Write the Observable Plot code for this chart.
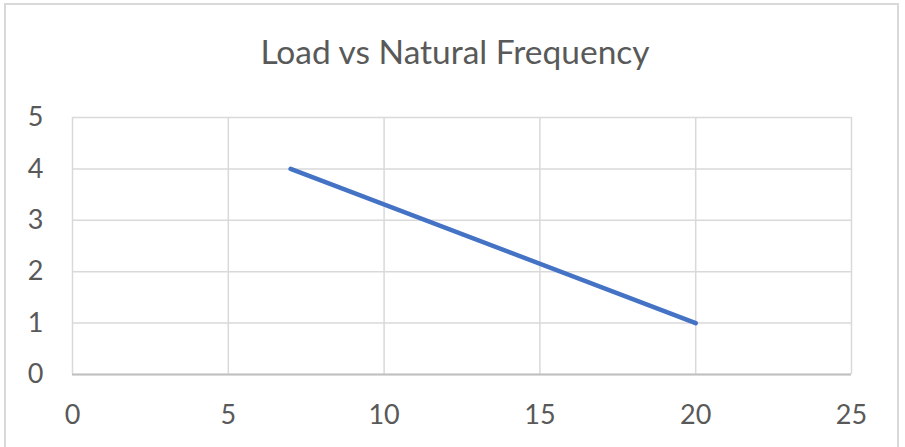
<!DOCTYPE html>
<html>
<head>
<meta charset="utf-8">
<script src="https://cdn.jsdelivr.net/npm/d3@7"></script>
<script src="https://cdn.jsdelivr.net/npm/@observablehq/plot@0.6"></script>
<style>
  html, body { margin: 0; padding: 0; background: #fff; }
  #wrap { position: relative; width: 905px; height: 447px; overflow: hidden; }
  #frame { position: absolute; left: 4px; top: 3px; width: 895px; height: 460px; border: 2px solid #d9d9d9; box-sizing: border-box; }
  #title { position: absolute; left: 0; width: 910px; top: 31px; text-align: center; font-family: Lato, sans-serif; font-size: 33.5px; color: #595959; line-height: 40px; }
  #chart { position: absolute; left: 0; top: 0; }
</style>
</head>
<body>
<div id="wrap">
  <div id="frame"></div>
  <div id="chart"></div>
  <div id="title">Load vs Natural Frequency</div>
</div>
<script>
const title = "Load vs Natural Frequency";
const frequency = [7, 20];
const load = [4, 1];
const xTicks = [0, 5, 10, 15, 20, 25];
const yTicks = [0, 1, 2, 3, 4, 5];

const data = frequency.map((f, i) => ({x: f, y: load[i]}));

const chart = Plot.plot({
  width: 905,
  height: 447,
  marginLeft: 72,
  marginRight: 54,
  marginTop: 117,
  marginBottom: 73,
  style: {fontFamily: "Lato, sans-serif", fontSize: "27px", color: "#595959", background: "transparent"},
  x: {domain: [0, 25]},
  y: {domain: [0, 5]},
  marks: [
    Plot.gridX(xTicks, {stroke: "#d9d9d9", strokeOpacity: 1, strokeWidth: 1.5}),
    Plot.gridY(yTicks, {stroke: "#d9d9d9", strokeOpacity: 1, strokeWidth: 1.5}),
    Plot.ruleY([0], {stroke: "#bfbfbf", strokeWidth: 2}),
    Plot.axisX({ticks: xTicks, tickFormat: "d", tickSize: 0, tickPadding: 30, label: null, fill: "#595959"}),
    Plot.axisY({ticks: yTicks, tickFormat: "d", tickSize: 0, tickPadding: 29, label: null, fill: "#595959"}),
    Plot.line(data, {x: "x", y: "y", stroke: "#4472c4", strokeWidth: 4.5, strokeLinecap: "round"})
  ]
});
document.getElementById("chart").appendChild(chart);
</script>
</body>
</html>
